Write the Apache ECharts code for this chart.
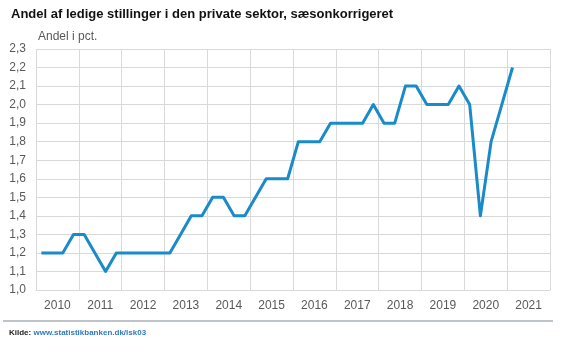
<!DOCTYPE html>
<html>
<head>
<meta charset="utf-8">
<script src="https://cdn.jsdelivr.net/npm/echarts@6/dist/echarts.min.js"></script>
<style>
html,body{margin:0;padding:0;background:#fff;}
#c{width:568px;height:344px;}
</style>
</head>
<body>
<div id="c"></div>
<script>
const titleText = 'Andel af ledige stillinger i den private sektor, sæsonkorrigeret';
const unitLabel = 'Andel i pct.';
const years = ['2010','2011','2012','2013','2014','2015','2016','2017','2018','2019','2020','2021'];
const quarters = ['K1','K2','K3','K4'];
const values = [
  1.2,1.2,1.2,1.3,
  1.3,1.2,1.1,1.2,
  1.2,1.2,1.2,1.2,
  1.2,1.3,1.4,1.4,
  1.5,1.5,1.4,1.4,
  1.5,1.6,1.6,1.6,
  1.8,1.8,1.8,1.9,
  1.9,1.9,1.9,2.0,
  1.9,1.9,2.1,2.1,
  2.0,2.0,2.0,2.1,
  2.0,1.4,1.8,2.0,
  2.2
];
const yMin = 1.0, yMax = 2.3, yStep = 0.1;
const sourceLabel = 'Kilde: ';
const sourceLink = 'www.statistikbanken.dk/lsk03';

const quarterCats = [];
years.forEach(y => quarters.forEach(q => quarterCats.push(y + q)));

const labelFont = '"Liberation Sans Narrow", "Arial Narrow", "Liberation Sans", sans-serif';
const chart = echarts.init(document.getElementById('c'), null, {renderer: 'canvas'});
chart.setOption({
  animation: false,
  backgroundColor: '#ffffff',
  title: [{
    text: titleText,
    left: 6, top: 3,
    textStyle: {fontFamily: '"Liberation Sans", Arial, sans-serif', fontWeight: 'bold', fontSize: 13, color: '#111'}
  }, {
    text: '{a|' + sourceLabel + '}{b|' + sourceLink + '}',
    left: 4, top: 324,
    textStyle: {
      rich: {
        a: {fontFamily: '"Liberation Sans", Arial, sans-serif', fontWeight: 'bold', fontSize: 8, color: '#222'},
        b: {fontFamily: '"Liberation Sans", Arial, sans-serif', fontWeight: 'bold', fontSize: 8, color: '#2f79bd'}
      }
    }
  }],
  graphic: [{
    type: 'line',
    shape: {x1: 3, y1: 321, x2: 553, y2: 321},
    style: {stroke: '#a9b0b6', lineWidth: 1.5}
  }],
  grid: {left: 36, right: 18, top: 49, bottom: 54, containLabel: false},
  xAxis: [{
    type: 'category',
    data: years,
    boundaryGap: true,
    axisLine: {show: true, lineStyle: {color: '#d9d9d9'}},
    axisTick: {show: false},
    splitLine: {show: true, interval: 0, lineStyle: {color: '#d9d9d9', width: 1}},
    axisLabel: {interval: 0, margin: 10, fontFamily: labelFont, fontSize: 12, color: '#595959'}
  }, {
    type: 'category',
    data: quarterCats,
    boundaryGap: true,
    show: false,
    position: 'bottom'
  }],
  yAxis: {
    type: 'value',
    min: yMin, max: yMax, interval: yStep,
    name: unitLabel,
    nameLocation: 'end',
    nameGap: 6,
    nameTextStyle: {align: 'left', fontFamily: labelFont, fontSize: 12, color: '#595959', padding: [0, 0, 0, 2]},
    axisLine: {show: false},
    axisTick: {show: false},
    splitLine: {show: true, lineStyle: {color: '#d9d9d9', width: 1}},
    axisLabel: {
      margin: 10, fontFamily: labelFont, fontSize: 12, color: '#595959',
      formatter: v => v.toFixed(1).replace('.', ',')
    }
  },
  series: [{
    type: 'line',
    xAxisIndex: 1,
    data: values,
    symbol: 'none',
    lineStyle: {color: '#188bc8', width: 3, join: 'round'},
    itemStyle: {color: '#188bc8'}
  }]
});
</script>
</body>
</html>
